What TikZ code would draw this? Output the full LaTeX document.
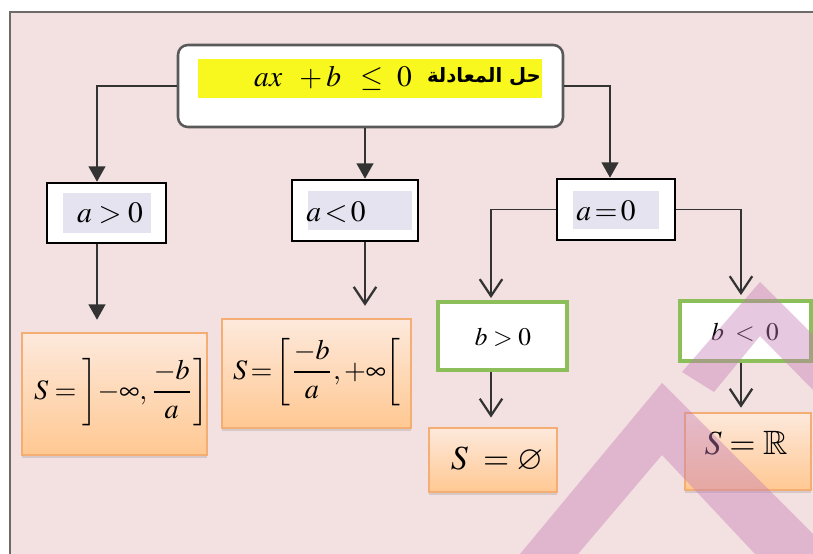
\documentclass[tikz,border=0pt]{standalone}
\usepackage{mathptmx}
\usepackage{amsmath}
\usepackage{amssymb}
\usepackage{fontspec}
\newfontfamily\arabicfont[Script=Arabic]{DejaVu Sans}
\TeXXeTstate=1
\usetikzlibrary{arrows.meta,fit,shadows}

\definecolor{panelpink}{HTML}{F3E1E1}
\definecolor{framegray}{HTML}{6E6A6A}
\definecolor{tagblue}{HTML}{E5E3EF}
\definecolor{boxgreen}{HTML}{8CBE5A}
\definecolor{peachtop}{HTML}{FDE9DC}
\definecolor{peachbot}{HTML}{FFC892}
\definecolor{peachline}{HTML}{F4AE74}
\definecolor{markyellow}{HTML}{F8F81E}
\definecolor{wmpurple}{HTML}{C47CB6}
\definecolor{linegray}{HTML}{333333}

\begin{document}
\begin{tikzpicture}[x=0.0125cm,y=-0.0125cm,
  titlebox/.style={draw=black!65, line width=0.9pt, fill=white, rounded corners=3.5pt, inner sep=0pt},
  condbox/.style={draw=black, line width=0.9pt, fill=white, inner sep=0pt},
  condtag/.style={fill=tagblue, inner sep=0pt},
  casebox/.style={draw=boxgreen, line width=1.4pt, fill=white, inner sep=0pt},
  solbox/.style={draw=peachline, line width=0.4pt, top color=peachtop, bottom color=peachbot,
    inner sep=0pt, drop shadow={opacity=0.25, shadow xshift=0pt, shadow yshift=-1.2pt}},
  condtext/.style={inner sep=0pt, font=\fontsize{10.5}{12}\selectfont},
  soltext/.style={inner sep=0pt, font=\fontsize{10}{12}\selectfont},
  settext/.style={inner sep=0pt, font=\fontsize{12}{14}\selectfont},
  casetext/.style={inner sep=0pt, font=\fontsize{9}{11}\selectfont},
  fillarrow/.style={draw=linegray, line width=0.7pt, -{Triangle[length=5.5pt,width=6pt]}},
  openarrow/.style={draw=linegray, line width=0.7pt, -{Straight Barb[length=6pt,width=8pt,line width=0.8pt]}}
]
  \useasboundingbox (0,0) rectangle (813,554);
  \fill[white] (0,0) rectangle (813,554);
  \fill[panelpink] (10,12) rectangle (813,554);
  \draw[framegray, line width=0.6pt] (10,554) -- (10,12) -- (813,12);

  % columns of the connectors
  \coordinate (colL) at (97,0);
  \coordinate (colM) at (365,0);
  \coordinate (colR) at (610,0);
  \coordinate (colB) at (491,0);
  \coordinate (colC) at (741,0);

  % title
  \node[titlebox, fit={(178,45)(563,127)}] (title) {};
  \node[fill=markyellow, inner sep=0pt, fit={(198,59)(542,98)}] (mark) {};
  \node[inner sep=0pt, font=\fontsize{10.5}{12}\selectfont] (eq) at (333,78)
    {$ax\;\;+b\;\;\leq\;0$};
  \node[inner sep=0pt, font=\arabicfont\bfseries\fontsize{7}{9}\selectfont] (eqname) at (484,77)
    {\beginR حل المعادلة\endR};

  % conditions on a
  \node[condbox, fit={(47,183)(166,243)}] (apos) {};
  \node[condtag, fit={(63,193)(151,233)}] (apostag) {};
  \node[condtext] (apostxt) at (110,213) {$a>0$};

  \node[condbox, fit={(292,180)(418,241)}] (aneg) {};
  \node[condtag, fit={(308,191)(412,230)}] (anegtag) {};
  \node[condtext] (anegtxt) at (336,212) {$a\!<\!0$};

  \node[condbox, fit={(557,179)(675,240)}] (azero) {};
  \node[condtag, fit={(573,191)(659,229)}] (azerotag) {};
  \node[condtext] (azerotxt) at (606,211) {$a\!=\!0$};

  % conditions on b
  \node[casebox, fit={(438,302)(567,370)}] (bpos) {};
  \node[casetext] (bpostxt) at (503,337) {$b>0$};
  \node[casebox, fit={(680,301)(811,361)}] (bneg) {};
  \node[casetext] (bnegtxt) at (745,332) {$b\; < \;0$};

  % solution sets
  \node[solbox, fit={(22,333)(207,455)}] (sapos) {};
  \node[soltext] (sapostxt) at (121,392) {$\displaystyle S=\left]-\infty,\frac{-b}{a}\right]$};
  \node[solbox, fit={(222,319)(411,428)}] (saneg) {};
  \node[soltext] (sanegtxt) at (317,372) {$\displaystyle S\!=\!\left[\frac{-b}{a},+\infty\right[$};
  \node[solbox, fit={(429,428)(557,492)}] (sbpos) {};
  \node[settext] (sbpostxt) at (497,460) {$S\;=\varnothing$};
  \node[solbox, fit={(685,413)(811,490)}] (sbneg) {};
  \node[settext] (sbnegtxt) at (746,443) {$S=\mathbb{R}$};

  % connectors
  \draw[fillarrow] (title.west) -| (apos.north -| colL);
  \draw[fillarrow] (title.south -| colM) -- (aneg.north -| colM);
  \draw[fillarrow] (title.east) -| (azero.north -| colR);
  \draw[fillarrow, shorten >=4.5pt] (apos.south -| colL) -- (sapos.north -| colL);
  \draw[openarrow, shorten >=4.5pt] (aneg.south -| colM) -- (saneg.north -| colM);
  \draw[openarrow, shorten >=0.7pt] (azero.west) -| (bpos.north -| colB);
  \draw[openarrow, shorten >=1.4pt] (azero.east) -| (bneg.north -| colC);
  \draw[openarrow, shorten >=3.5pt] (bpos.south -| colB) -- (sbpos.north -| colB);
  \draw[openarrow, shorten >=1.7pt] (bneg.south -| colC) -- (sbneg.north -| colC);

  % watermark
  \fill[wmpurple, opacity=0.42] (520,554) -- (662,383) -- (813,534) -- (813,554) -- (755,554)
    -- (662,455) -- (578,554) -- cycle;
  \fill[wmpurple, opacity=0.42] (682,372) -- (760,282) -- (813,335) -- (813,390) -- (760,336)
    -- (714,392) -- cycle;
\end{tikzpicture}
\end{document}
